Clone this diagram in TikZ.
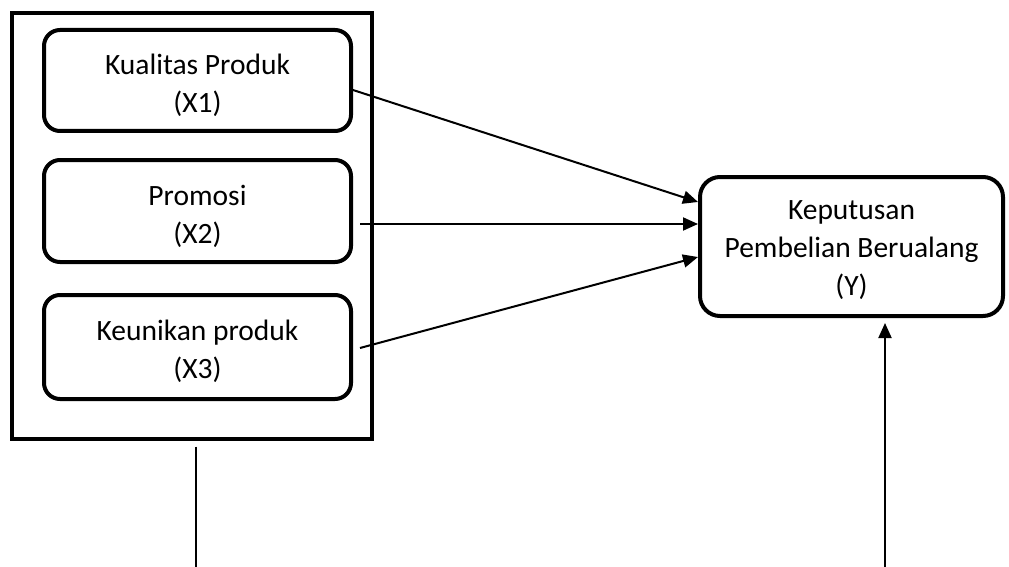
\documentclass[tikz,border=0pt]{standalone}
\usepackage{fontspec}
\setmainfont{Carlito}
\usetikzlibrary{arrows.meta}
\begin{document}
\begin{tikzpicture}[x=1pt,y=-1pt,
  box/.style={draw, line width=4pt, rounded corners=16pt, inner sep=0pt},
  txt/.style={align=center, inner sep=0pt, font=\fontsize{29.5}{38}\selectfont},
  frame/.style={draw, line width=4pt, inner sep=0pt},
  conn/.style={line width=2pt, -{Triangle[length=15pt,width=13pt]}},
  plain/.style={line width=2pt}]
\useasboundingbox (0,0) rectangle (1009,567);
\node[frame, minimum width=360pt, minimum height=425pt] (outer) at (192,226) {};
\node[box, minimum width=307pt, minimum height=101pt] (b1) at (197.5,80.5) {};
\node[box, minimum width=307pt, minimum height=102pt] (b2) at (197.5,211) {};
\node[box, minimum width=307pt, minimum height=104pt] (b3) at (197.5,347) {};
\node[box, rounded corners=20pt, minimum width=303pt, minimum height=139pt] (y) at (851.5,246.5) {};
\node[txt] (t1) at ([yshift=-5pt]b1.center) {Kualitas Produk\\(X1)};
\node[txt] (t2) at ([yshift=-5pt]b2.center) {Promosi\\(X2)};
\node[txt] (t3) at ([yshift=-4pt]b3.center) {Keunikan produk\\(X3)};
\node[txt] (ty) at ([yshift=-4pt]y.center) {Keputusan\\Pembelian Berualang\\(Y)};
\coordinate (l2) at (196,567);
\coordinate (r2) at (885,567);
\draw[conn] ([yshift=-9.5pt]b1.east) -- ([yshift=44.5pt]y.west);
\draw[conn] ([xshift=7pt,yshift=-13pt]b2.east) -- ([yshift=22.5pt]y.west);
\draw[conn] ([xshift=7pt,yshift=-1pt]b3.east) -- ([yshift=-10.5pt]y.west);
\draw[plain] ([xshift=4pt,yshift=-6pt]outer.south) -- (l2);
\draw[conn] (r2) -- ([xshift=33.5pt,yshift=-5pt]y.south);
\end{tikzpicture}
\end{document}
